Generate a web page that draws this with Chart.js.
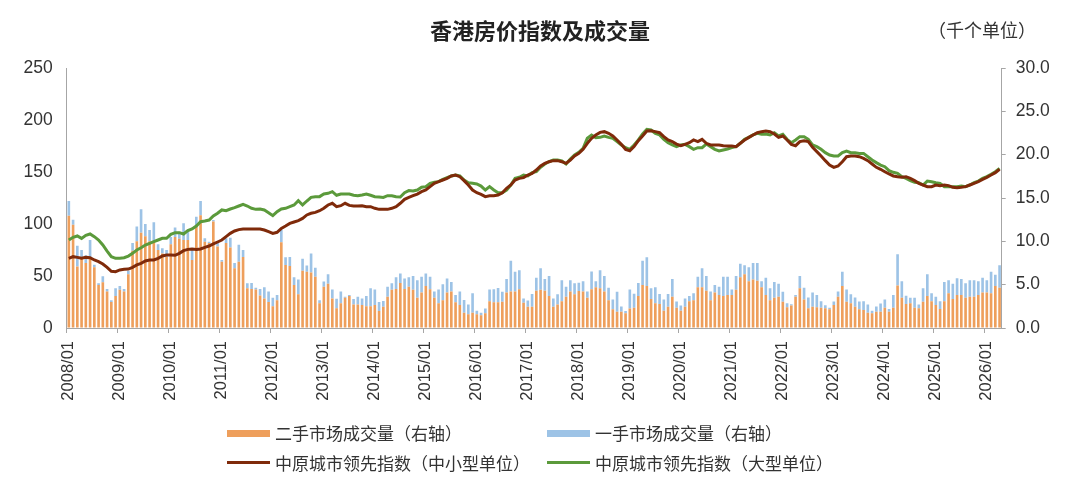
<!DOCTYPE html>
<html>
<head>
<meta charset="utf-8">
<script src="https://cdn.jsdelivr.net/npm/chart.js@4.4.1/dist/chart.umd.min.js"></script>
<style>
  html, body { margin: 0; padding: 0; background: #fff; }
  #wrap { position: relative; width: 1080px; height: 496px; font-family: "Noto Sans CJK SC", "Noto Sans", sans-serif; color: #333; }
  #wrap canvas { position: absolute; left: 0; top: 0; }
  .txt { position: absolute; white-space: nowrap; line-height: 1; }
  #title { left: 0; width: 1080px; top: 18px; text-align: center; font-size: 22px; font-weight: bold; color: #222; }
  #unit { left: 928px; top: 20px; font-size: 18px; }
  .sw { position: absolute; }
  .lg { font-size: 17px; }
</style>
</head>
<body>
<div id="wrap">
  <canvas id="chart" width="1080" height="496"></canvas>
  <div id="title" class="txt">香港房价指数及成交量</div>
  <div id="unit" class="txt">（千个单位）</div>

  <div class="sw" style="left:227px;top:430px;width:43px;height:7px;background:#EE9F5C"></div>
  <div class="txt lg" style="left:275px;top:424px">二手市场成交量（右轴）</div>
  <div class="sw" style="left:547px;top:430px;width:43px;height:7px;background:#9DC3E6"></div>
  <div class="txt lg" style="left:595px;top:424px">一手市场成交量（右轴）</div>

  <div class="sw" style="left:227px;top:461px;width:43px;height:3px;background:#7F2A0A"></div>
  <div class="txt lg" style="left:275px;top:454px">中原城市领先指数（中小型单位）</div>
  <div class="sw" style="left:547px;top:461px;width:43px;height:3px;background:#5B9A3B"></div>
  <div class="txt lg" style="left:595px;top:454px">中原城市领先指数（大型单位）</div>
</div>
<script>
// months 2008/01 .. 2026/04
const months = [];
for (let y = 2008; y <= 2026; y++) {
  for (let m = 1; m <= 12; m++) {
    if (y === 2026 && m > 4) break;
    months.push(y + '/' + (m < 10 ? '0' + m : m));
  }
}

// 二手市场成交量 (千个单位, right axis)
const secondHand = [
  12.96, 11.9, 7.1, 8.0, 7.5, 8.1, 7.0, 4.96, 5.27, 4.2, 3.0, 3.7,
  4.4, 4.2, 6.2, 8.9, 10.0, 11.0, 10.6, 10.0, 10.0, 9.0, 8.6, 8.2,
  9.65, 10.5, 10.3, 10.15, 10.15, 7.85, 11.7, 13.0, 9.96, 9.8, 12.3, 9.4,
  7.65, 9.8, 9.3, 6.9, 7.65, 8.2, 4.6, 4.5, 4.45, 3.75, 3.4, 3.0,
  2.5, 3.2, 9.9, 7.27, 7.15, 4.96, 3.9, 6.6, 6.5, 6.4, 5.9, 2.85,
  4.77, 5.1, 3.4, 2.27, 2.85, 3.5, 3.7, 2.7, 2.7, 2.65, 2.5, 2.5,
  2.65, 1.96, 2.46, 3.6, 4.4, 4.5, 5.2, 4.5, 4.77, 4.4, 3.5, 4.1,
  4.85, 4.46, 3.5, 2.85, 3.2, 4.1, 4.2, 2.96, 2.65, 1.77, 1.6, 1.77,
  1.6, 1.46, 1.7, 3.1, 2.96, 2.96, 3.04, 4.1, 4.2, 4.2, 4.46, 2.9,
  2.46, 2.46, 4.3, 4.4, 4.3, 3.7, 2.46, 2.7, 3.1, 3.6, 4.2, 3.9,
  4.27, 4.2, 3.5, 4.46, 4.7, 4.6, 4.2, 3.2, 2.15, 1.88, 1.88, 1.7,
  2.25, 2.35, 3.7, 4.96, 4.85, 3.35, 2.85, 2.77, 2.0, 2.46, 3.6, 2.35,
  2.0, 2.46, 3.1, 3.2, 4.7, 4.7, 4.3, 3.2, 4.1, 3.8, 3.7, 3.8,
  3.8, 4.4, 5.85, 6.2, 5.4, 5.6, 5.46, 4.7, 3.8, 3.2, 3.5, 3.6,
  3.04, 2.4, 2.6, 3.6, 4.6, 3.3, 2.27, 2.46, 2.4, 2.35, 2.27, 2.15,
  2.65, 3.6, 4.85, 3.04, 2.85, 2.46, 2.15, 2.08, 1.77, 1.7, 1.88, 1.88,
  2.35, 1.88, 2.35, 4.9, 3.5, 2.77, 2.85, 2.35, 2.27, 3.04, 3.7, 3.1,
  2.65, 2.2, 3.1, 4.0, 3.35, 3.8, 3.8, 3.5, 3.6, 3.6, 3.8, 4.1,
  4.1, 4.0, 4.85, 4.65
];

// 一手市场成交量 (千个单位, right axis)
const firstHand = [
  1.7, 0.6, 2.4, 1.0, 0.9, 2.05, 0.3, 0.2, 0.7, 0.3, 0.2, 0.9,
  0.45, 0.3, 0.4, 0.9, 1.7, 2.7, 1.4, 1.3, 2.2, 0.65, 0.6, 0.8,
  0.85, 1.1, 0.8, 1.95, 1.05, 1.15, 1.15, 1.65, 0.4, 0.15, 0.15, 0.6,
  0.2, 0.55, 1.1, 0.6, 1.95, 0.8, 0.55, 0.7, 0.2, 0.75, 1.3, 1.2,
  1.0, 0.6, 1.4, 0.9, 1.05, 0.9, 1.7, 1.4, 0.7, 2.2, 1.05, 0.35,
  0.6, 1.1, 1.05, 1.1, 1.35, 0.1, 0.1, 0.65, 0.9, 0.75, 1.2, 2.1,
  1.8, 1.05, 0.65, 1.15, 0.75, 1.35, 1.1, 1.2, 1.1, 1.6, 2.0, 1.8,
  1.45, 1.45, 0.7, 1.6, 1.85, 1.6, 1.1, 0.85, 1.55, 1.45, 1.1, 2.25,
  0.4, 0.3, 0.55, 1.35, 1.5, 1.65, 1.15, 1.55, 3.55, 2.3, 2.2, 0.5,
  0.7, 1.45, 1.5, 2.5, 1.35, 2.3, 0.95, 1.2, 2.4, 1.15, 1.3, 1.25,
  0.95, 1.2, 0.7, 2.05, 0.7, 2.05, 1.8, 1.45, 1.15, 2.3, 0.6, 0.25,
  2.2, 1.6, 1.5, 2.8, 3.3, 1.25, 1.85, 1.15, 1.3, 1.45, 2.05, 0.7,
  0.6, 0.95, 0.6, 0.8, 1.2, 2.2, 1.7, 1.0, 0.85, 0.95, 2.2, 2.1,
  0.65, 1.6, 1.55, 1.05, 1.6, 1.9, 2.05, 0.7, 2.0, 1.4, 1.8, 1.5,
  1.15, 0.45, 0.15, 0.2, 1.4, 1.35, 1.25, 1.65, 1.4, 0.75, 0.35, 0.2,
  0.4, 0.6, 1.65, 1.4, 1.05, 1.05, 0.9, 1.0, 0.95, 0.3, 0.6, 0.95,
  0.95, 0.3, 1.45, 3.6, 1.9, 0.95, 0.65, 1.15, 0.45, 1.55, 2.5, 0.9,
  0.95, 0.9, 2.2, 1.5, 1.75, 1.95, 1.85, 1.65, 1.9, 1.9, 1.6, 1.7,
  1.4, 2.5, 1.3, 2.6
];

// 中原城市领先指数（中小型单位）, left axis
const ccSmall = [
  67.0, 68.6, 67.9, 67.0, 67.9, 67.6, 65.4, 63.8, 61.5, 58.3, 54.5, 54.2,
  55.8, 56.4, 56.7, 58.3, 60.6, 62.2, 64.4, 65.4, 65.4, 67.0, 69.2, 70.2,
  70.2, 69.9, 71.8, 74.4, 75.6, 76.0, 75.6, 76.0, 77.6, 78.8, 80.8, 82.7,
  84.6, 87.8, 91.0, 93.3, 94.6, 95.2, 95.2, 95.2, 95.2, 95.2, 94.2, 92.6,
  91.0, 92.0, 95.8, 98.1, 100.6, 101.9, 103.2, 105.4, 108.7, 110.3, 111.2, 112.8,
  115.1, 118.3, 119.9, 116.7, 117.6, 119.9, 117.9, 117.3, 117.3, 117.6, 116.7, 116.7,
  115.1, 114.1, 114.1, 114.1, 115.1, 116.7, 119.9, 123.7, 125.6, 127.2, 128.8, 131.1,
  132.7, 135.9, 139.1, 140.7, 142.3, 143.9, 146.2, 147.1, 145.5, 141.7, 137.5, 132.7,
  130.1, 128.5, 126.3, 127.2, 127.2, 127.9, 130.1, 134.3, 137.5, 142.3, 143.9, 144.6,
  147.1, 148.7, 151.9, 155.8, 158.3, 159.9, 160.9, 160.9, 159.9, 158.3, 161.5, 165.4,
  167.9, 171.8, 177.6, 182.4, 185.6, 188.1, 188.8, 187.2, 184.6, 180.8, 176.6, 171.8,
  170.5, 174.4, 180.1, 184.6, 189.4, 189.7, 188.8, 187.8, 184.0, 180.8, 179.2, 176.9,
  175.3, 176.6, 178.2, 180.8, 179.2, 181.4, 177.6, 176.0, 176.0, 176.0, 175.3, 175.0,
  175.0, 174.4, 177.6, 180.8, 183.3, 185.6, 187.8, 188.8, 189.4, 188.8, 186.5, 183.3,
  184.6, 180.8, 176.6, 175.3, 179.2, 180.1, 179.2, 173.7, 169.6, 165.4, 160.9, 156.7,
  154.5, 155.8, 159.9, 164.7, 165.4, 165.4, 164.7, 163.1, 160.9, 157.7, 154.5, 152.6,
  150.3, 148.1, 146.2, 145.5, 144.9, 145.5, 143.9, 141.7, 139.1, 137.5, 135.9, 135.9,
  137.5, 136.9, 137.5, 136.9, 135.3, 134.9, 135.3, 135.9, 137.5, 139.1, 140.7, 142.9,
  144.9, 147.1, 149.4, 152.6
];

// 中原城市领先指数（大型单位）, left axis
const ccLarge = [
  84.6, 87.2, 88.5, 86.2, 89.1, 90.4, 87.8, 84.6, 79.8, 74.0, 68.6, 67.0,
  67.0, 67.6, 69.2, 71.8, 75.0, 77.2, 79.8, 81.4, 83.0, 84.6, 86.2, 86.2,
  90.1, 91.7, 91.7, 90.4, 93.6, 95.2, 98.1, 102.2, 102.9, 103.8, 107.7, 110.3,
  113.5, 112.8, 114.4, 115.7, 117.3, 118.9, 117.3, 115.1, 114.1, 114.4, 113.5, 110.9,
  108.0, 111.9, 114.4, 115.1, 116.7, 118.3, 122.4, 118.3, 122.1, 125.6, 126.3, 126.3,
  128.8, 129.5, 131.1, 127.6, 128.8, 128.8, 128.8, 127.6, 127.2, 127.9, 128.8, 127.6,
  126.3, 126.0, 125.6, 127.2, 127.2, 126.3, 126.0, 130.1, 132.1, 131.7, 132.7, 135.3,
  135.9, 139.1, 140.1, 140.7, 142.9, 144.6, 146.2, 147.1, 146.2, 142.3, 139.7, 139.1,
  138.5, 136.5, 132.7, 135.9, 132.7, 130.1, 130.1, 132.7, 137.5, 143.9, 144.9, 147.1,
  146.2, 149.4, 150.3, 154.5, 157.7, 159.9, 161.5, 161.5, 160.6, 157.7, 162.5, 166.3,
  168.9, 172.8, 182.4, 185.6, 183.0, 183.3, 184.6, 183.3, 182.4, 179.2, 176.0, 173.4,
  171.8, 176.0, 180.8, 186.5, 191.0, 190.4, 187.2, 185.6, 181.4, 178.2, 176.0, 174.4,
  176.0, 176.6, 174.4, 171.8, 173.4, 173.4, 176.9, 174.4, 171.8, 170.2, 171.2, 172.1,
  173.4, 174.4, 177.6, 181.4, 183.3, 185.6, 187.2, 186.2, 186.5, 185.6, 187.8, 184.6,
  186.2, 181.4, 178.2, 180.8, 184.0, 184.0, 181.4, 176.0, 174.4, 171.8, 168.6, 166.3,
  165.4, 165.4, 168.6, 170.2, 168.6, 168.6, 167.9, 167.9, 164.7, 161.5, 159.0, 156.7,
  155.1, 151.3, 149.7, 148.7, 145.5, 143.9, 141.7, 140.1, 139.7, 137.5, 141.3, 140.7,
  139.7, 139.1, 135.9, 135.9, 135.9, 135.9, 136.5, 135.9, 137.5, 139.7, 141.3, 143.9,
  145.5, 147.8, 150.3, 153.5
];

const leftTicks = [0, 50, 100, 150, 200, 250];
const rightTicks = [0, 5, 10, 15, 20, 25, 30];

const axisColor = '#a6a6a6';
const labelColor = '#333';
const numFont = { family: '"Liberation Sans", Arial, sans-serif', size: 17.5 };

new Chart(document.getElementById('chart'), {
  data: {
    labels: months,
    datasets: [
      {
        type: 'line', label: '中原城市领先指数（中小型单位）', data: ccSmall, yAxisID: 'y',
        borderColor: '#7F2A0A', borderWidth: 3, pointRadius: 0, tension: 0, order: 0
      },
      {
        type: 'line', label: '中原城市领先指数（大型单位）', data: ccLarge, yAxisID: 'y',
        borderColor: '#5B9A3B', borderWidth: 3, pointRadius: 0, tension: 0, order: 0
      },
      {
        type: 'bar', label: '二手市场成交量（右轴）', data: secondHand, yAxisID: 'y1',
        backgroundColor: '#EE9F5C', barPercentage: 0.62, categoryPercentage: 1.0, order: 1
      },
      {
        type: 'bar', label: '一手市场成交量（右轴）', data: firstHand, yAxisID: 'y1',
        backgroundColor: '#9DC3E6', barPercentage: 0.62, categoryPercentage: 1.0, order: 1
      }
    ]
  },
  options: {
    responsive: false,
    animation: false,
    layout: { padding: { top: 68, left: 0, right: 0, bottom: 0 } },
    plugins: { legend: { display: false }, tooltip: { enabled: false } },
    scales: {
      x: {
        stacked: true,
        offset: true,
        grid: {
          offset: true,
          drawOnChartArea: false,
          drawTicks: true,
          tickLength: 5,
          color: ctx => (ctx.index % 12 === 0 ? axisColor : 'rgba(0,0,0,0)')
        },
        border: { color: axisColor, width: 1 },
        ticks: {
          autoSkip: false,
          minRotation: 90,
          maxRotation: 90,
          padding: 8,
          color: labelColor,
          font: { family: '"Liberation Sans", Arial, sans-serif', size: 16.5 },
          callback: (v, i) => (months[i].endsWith('/01') ? months[i] : '')
        },
        afterFit: s => { s.height = 168; }
      },
      y: {
        position: 'left',
        min: 0,
        max: 250,
        afterBuildTicks: s => { s.ticks = leftTicks.map(v => ({ value: v })); },
        grid: { drawOnChartArea: false, drawTicks: false },
        border: { color: axisColor, width: 1 },
        ticks: { padding: 14, color: labelColor, font: numFont },
        afterFit: s => { s.width = 66.7; }
      },
      y1: {
        position: 'right',
        stacked: true,
        min: 0,
        max: 30,
        afterBuildTicks: s => { s.ticks = rightTicks.map(v => ({ value: v })); },
        grid: { drawOnChartArea: false, drawTicks: true, tickLength: 4, color: axisColor },
        border: { color: axisColor, width: 1 },
        ticks: { padding: 10, color: labelColor, font: numFont, callback: v => Number(v).toFixed(1) },
        afterFit: s => { s.width = 78.3; }
      }
    }
  }
});
</script>
</body>
</html>
